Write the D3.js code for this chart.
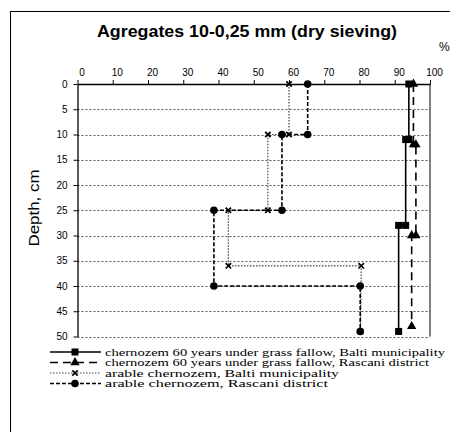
<!DOCTYPE html>
<html>
<head>
<meta charset="utf-8">
<script src="https://cdn.jsdelivr.net/npm/d3@7"></script>
<style>
  body { margin: 0; background: #fff; }
  svg { display: block; }
</style>
</head>
<body>
<div id="container"></div>
<script>
// data: each layer is drawn as a step (value at top and bottom of layer)
const seriesNames = [
  "chernozem 60 years under grass fallow, Balti municipality",
  "chernozem 60 years under grass fallow, Rascani district",
  "arable chernozem, Balti municipality",
  "arable chernozem, Rascani district"
];
const baltiFallowDepth = [0, 11, 11, 28, 28, 49];
const baltiFallowValue = [94, 94, 93.1, 93.1, 91.1, 91.1];
const rascaniFallowDepth = [0, 12, 12, 30, 30, 48];
const rascaniFallowValue = [95.3, 95.3, 96, 96, 94.8, 94.8];
const baltiArableDepth = [0, 10, 10, 25, 25, 36, 36, 49];
const baltiArableValue = [60, 60, 54, 54, 42.8, 42.8, 80.5, 80.3];
const rascaniArableDepth = [0, 10, 10, 25, 25, 40, 40, 49];
const rascaniArableValue = [65.3, 65.3, 58, 58, 38.7, 38.7, 80.2, 80.2];

const xTicks = [0, 10, 20, 30, 40, 50, 60, 70, 80, 90, 100];
const yTicks = [0, 5, 10, 15, 20, 25, 30, 35, 40, 45, 50];

/* CONSTANTS */
const width = 450, height = 432;
const plot = { left: 77.5, right: 430, top: 84, bottom: 336.5 };

const svg = d3.select("#container").append("svg")
  .attr("width", width)
  .attr("height", height);

// outer chart border (goes off the right and bottom edge like in the picture)
svg.append("rect")
  .attr("x", 10.5).attr("y", 11.5)
  .attr("width", 460).attr("height", 440)
  .attr("fill", "none").attr("stroke", "#000").attr("stroke-width", 1);

const x = d3.scaleLinear().domain([0, 100]).range([plot.left, plot.right]);
const y = d3.scaleLinear().domain([0, 50]).range([plot.top, plot.bottom]);

// title
svg.append("text")
  .attr("x", 247).attr("y", 37)
  .attr("text-anchor", "middle")
  .attr("font-family", "Liberation Sans, Arial, sans-serif")
  .attr("font-weight", "bold")
  .attr("font-size", 17)
  .attr("textLength", 300)
  .attr("lengthAdjust", "spacingAndGlyphs")
  .text("Agregates 10-0,25 mm (dry sieving)");

svg.append("text")
  .attr("x", 439).attr("y", 51)
  .attr("font-family", "Liberation Sans, Arial, sans-serif")
  .attr("font-size", 12)
  .text("%");

// gridlines (dotted), bottom one too
svg.append("g")
  .selectAll("line")
  .data(yTicks.filter(d => d > 0))
  .join("line")
  .attr("x1", plot.left).attr("x2", plot.right)
  .attr("y1", d => Math.round(y(d)) + 0.5).attr("y2", d => Math.round(y(d)) + 0.5)
  .attr("stroke", "#555")
  .attr("stroke-dasharray", "2,2");

// right edge of plot area
svg.append("line")
  .attr("x1", plot.right).attr("x2", plot.right)
  .attr("y1", plot.top).attr("y2", plot.bottom)
  .attr("stroke", "#000");

// top axis
const xAxis = d3.axisTop(x).tickValues(xTicks).tickSize(4).tickSizeOuter(0).tickFormat(d3.format("d"));
const gx = svg.append("g")
  .attr("transform", `translate(0, ${plot.top})`)
  .call(xAxis);
gx.select(".domain").attr("stroke-width", 1.3);
gx.selectAll("text")
  .attr("font-family", "Liberation Sans, Arial, sans-serif")
  .attr("font-size", 10)
  .attr("dx", 4)
  .attr("dy", -1);

// left axis
const yAxis = d3.axisLeft(y).tickValues(yTicks).tickSize(4).tickSizeOuter(0);
const gy = svg.append("g")
  .attr("transform", `translate(${plot.left}, 0)`)
  .call(yAxis);
gy.select(".domain").attr("stroke-width", 1.3);
gy.selectAll("text")
  .attr("font-family", "Liberation Sans, Arial, sans-serif")
  .attr("font-size", 10)
  .attr("dx", -3);

svg.append("text")
  .attr("transform", "translate(39, 208) rotate(-90)")
  .attr("text-anchor", "middle")
  .attr("font-family", "Liberation Sans, Arial, sans-serif")
  .attr("font-size", 14)
  .attr("textLength", 77)
  .attr("lengthAdjust", "spacingAndGlyphs")
  .text("Depth, cm");

// series styles
const series = [
  { name: seriesNames[0], depth: baltiFallowDepth, value: baltiFallowValue, dash: null, width: 1.6, color: "#000", marker: "square" },
  { name: seriesNames[1], depth: rascaniFallowDepth, value: rascaniFallowValue, dash: "8,5", width: 1.6, color: "#000", marker: "triangle" },
  { name: seriesNames[2], depth: baltiArableDepth, value: baltiArableValue, dash: "1.5,1.5", width: 1.2, color: "#444", marker: "x" },
  { name: seriesNames[3], depth: rascaniArableDepth, value: rascaniArableValue, dash: "4,2", width: 1.6, color: "#000", marker: "circle" }
];

const line = d3.line().x(d => x(d[0])).y(d => y(d[1]));

function drawMarker(g, type, cx, cy) {
  if (type === "square") {
    g.append("rect").attr("x", cx - 3.5).attr("y", cy - 3.5).attr("width", 7).attr("height", 7).attr("fill", "#000");
  } else if (type === "triangle") {
    g.append("path").attr("transform", `translate(${cx},${cy})`)
      .attr("d", d3.symbol(d3.symbolTriangle, 38)()).attr("fill", "#000");
  } else if (type === "x") {
    g.append("path").attr("transform", `translate(${cx},${cy})`)
      .attr("d", "M-2.7,-2.7L2.7,2.7M-2.7,2.7L2.7,-2.7").attr("stroke", "#000").attr("stroke-width", 1.7).attr("fill", "none");
  } else {
    g.append("circle").attr("cx", cx).attr("cy", cy).attr("r", 3.8).attr("fill", "#000");
  }
}

series.forEach(s => {
  const pts = s.value.map((v, i) => [v, s.depth[i]]);
  svg.append("path")
    .datum(pts)
    .attr("d", line)
    .attr("fill", "none")
    .attr("stroke", s.color)
    .attr("stroke-width", s.width)
    .attr("stroke-dasharray", s.dash);
  const g = svg.append("g");
  pts.forEach(p => drawMarker(g, s.marker, x(p[0]), y(p[1])));
});

// legend
const legendY = [352, 362.5, 373, 383.5];
const legendLen = [340, 324, 234, 223];
series.forEach((s, i) => {
  const ly = legendY[i];
  svg.append("line")
    .attr("x1", 50).attr("x2", 101)
    .attr("y1", ly).attr("y2", ly)
    .attr("stroke", s.color)
    .attr("stroke-width", s.width)
    .attr("stroke-dasharray", s.dash);
  drawMarker(svg.append("g"), s.marker, 75, ly);
  svg.append("text")
    .attr("x", 105).attr("y", ly + 3.5)
    .attr("font-family", "Liberation Serif, Times New Roman, serif")
    .attr("font-size", 10.5)
    .attr("textLength", legendLen[i])
    .attr("lengthAdjust", "spacingAndGlyphs")
    .text(s.name);
});
</script>
</body>
</html>
